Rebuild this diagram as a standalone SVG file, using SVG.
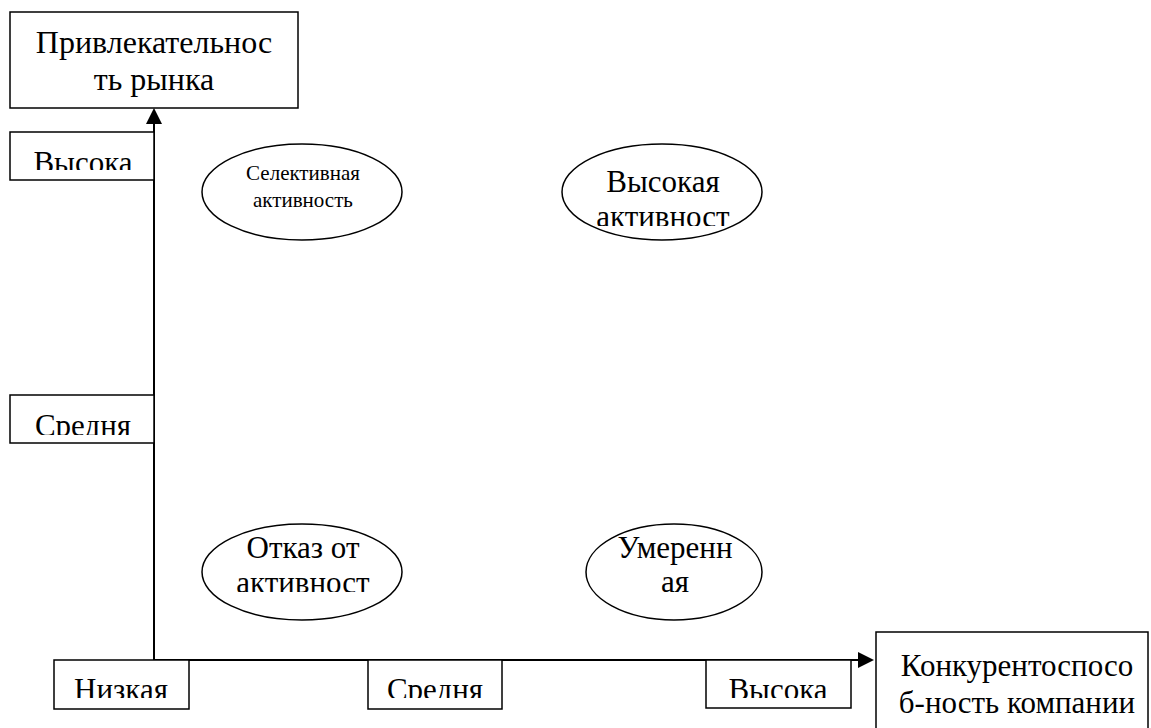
<svg xmlns="http://www.w3.org/2000/svg" width="1151" height="728" viewBox="0 0 1151 728" font-family="Liberation Serif, DejaVu Serif, serif">
<style>
.b{fill:#fff;stroke:#000;stroke-width:1.5}
text{font-family:"Liberation Serif","Times New Roman","DejaVu Serif",serif}
.t{font-size:31px;fill:#000;text-anchor:middle}
.s{font-size:21px}
.ln{stroke:#000;stroke-width:2;fill:none}
</style>
<defs>
<clipPath id="c1"><rect x="10" y="132" width="144" height="38"/></clipPath>
<clipPath id="c2"><rect x="10" y="395" width="144" height="40"/></clipPath>
<clipPath id="c3"><rect x="54" y="660" width="135" height="38"/></clipPath>
<clipPath id="c4"><rect x="368" y="660" width="134" height="38"/></clipPath>
<clipPath id="c5"><rect x="706" y="660" width="145" height="38"/></clipPath>
<clipPath id="c6"><rect x="562" y="144" width="200" height="82"/></clipPath>
<clipPath id="c7"><rect x="203" y="524" width="200" height="68"/></clipPath>
</defs>
<g id="connectors">
<line class="ln" x1="154" y1="660" x2="154" y2="122"/>
<polygon points="154,108 146,124 162,124" fill="#000"/>
<line class="ln" x1="154" y1="660" x2="860" y2="660"/>
<polygon points="874,660 858,652 858,668" fill="#000"/>
</g>
<g id="title-y">
<rect class="b" x="10" y="12" width="288" height="96"/>
<text class="t" x="154" y="53" style="font-size:32px">Привлекательнос</text>
<text class="t" x="154" y="90" style="font-size:32px">ть рынка</text>
</g>
<g id="y-high">
<rect class="b" x="10" y="132" width="144" height="48"/>
<text class="t" x="83" y="173" clip-path="url(#c1)">Высока</text>
</g>
<g id="y-mid">
<rect class="b" x="10" y="395" width="144" height="48"/>
<text class="t" x="83" y="436" clip-path="url(#c2)">Средня</text>
</g>
<g id="x-low">
<rect class="b" x="54" y="660" width="135" height="49"/>
<text class="t" x="121" y="700" clip-path="url(#c3)">Низкая</text>
</g>
<g id="x-mid">
<rect class="b" x="368" y="660" width="134" height="49"/>
<text class="t" x="435" y="700" clip-path="url(#c4)">Средня</text>
</g>
<g id="x-high">
<rect class="b" x="706" y="660" width="145" height="48"/>
<text class="t" x="778" y="700" clip-path="url(#c5)">Высока</text>
</g>
<g id="title-x">
<rect class="b" x="876" y="632" width="272" height="110"/>
<text class="t" x="1017" y="676">Конкурентоспосо</text>
<text class="t" x="1017" y="713">б-ность компании</text>
</g>
<g id="selective">
<ellipse class="b" cx="302" cy="192" rx="100" ry="48"/>
<text class="t s" x="303" y="180">Селективная</text>
<text class="t s" x="303" y="207">активность</text>
</g>
<g id="high-activity">
<ellipse class="b" cx="662" cy="192" rx="100" ry="48"/>
<text class="t" x="663" y="192">Высокая</text>
<text class="t" x="663" y="227" clip-path="url(#c6)">активност</text>
</g>
<g id="refuse">
<ellipse class="b" cx="302" cy="572" rx="100" ry="48"/>
<text class="t" x="303" y="558">Отказ от</text>
<text class="t" x="303" y="593" clip-path="url(#c7)">активност</text>
</g>
<g id="moderate">
<ellipse class="b" cx="674" cy="572" rx="88" ry="48"/>
<text class="t" x="675" y="558">Умеренн</text>
<text class="t" x="675" y="592">ая</text>
</g>
</svg>
